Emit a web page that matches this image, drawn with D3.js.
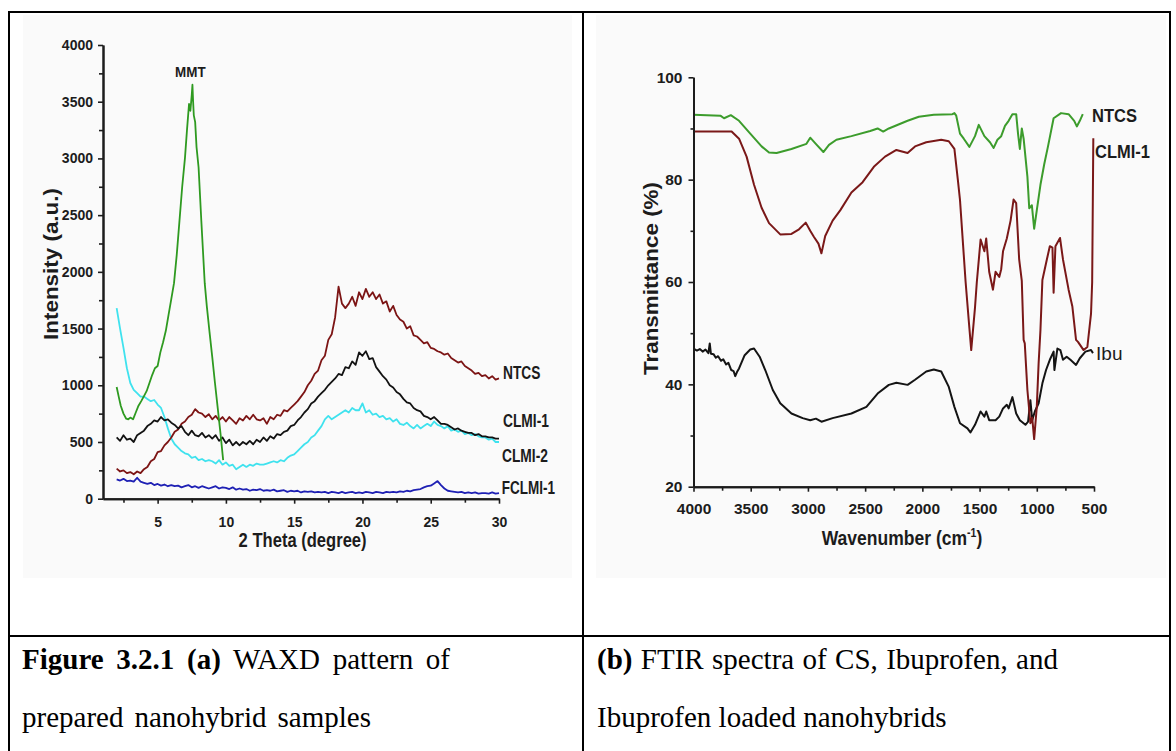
<!DOCTYPE html>
<html>
<head>
<meta charset="utf-8">
<script src="https://cdn.jsdelivr.net/npm/d3@7"></script>
<style>
  body { margin: 0; background: #fff; }
  svg { display: block; }
</style>
</head>
<body>
<svg id="fig" width="1176" height="751"></svg>
<script>
// ---------- (a) WAXD patterns: intensity (a.u.) on a 0.25 degree 2-theta grid ----------
const twoTheta = d3.range(2, 30.001, 0.25);

const waxdNTCS = [
  265,240,250,225,  235,215,240,225,  260,280,330,350,  410,420,470,500,
  540,590,610,660,  680,720,740,790,  760,750,720,745,  700,730,690,720,
  680,720,690,660,  710,690,730,700,  740,700,690,710,  660,720,700,740,
  730,780,770,800,  830,860,900,940,  1000,1040,1100,1130, 1220,1260,1400,1450,
  1600,1870,1720,1680, 1720,1780,1700,1820, 1760,1850,1780,1820, 1760,1800,1720,1740,
  1650,1700,1620,1580, 1560,1500,1520,1440, 1430,1400,1370,1380, 1330,1320,1300,1290,
  1270,1280,1240,1220, 1200,1210,1170,1150, 1130,1100,1110,1080, 1090,1060,1080,1050,
  1060
];
const waxdCLMI1 = [
  540,510,560,520,  530,500,560,580,  600,640,660,690,  680,720,690,700,
  670,650,620,640,  590,560,600,560,  550,580,540,560,  530,560,510,540,
  490,520,470,500,  470,500,480,510,  480,520,500,540,  510,550,530,570,
  560,590,600,640,  650,690,720,760,  790,840,860,900,  930,960,1000,1030,
  1060,1100,1090,1160, 1150,1210,1180,1290, 1260,1300,1230,1240, 1160,1120,1080,1050,
  1000,980,940,920,  880,850,840,800,  780,770,730,720,  700,720,690,660,
  660,650,630,610,  620,600,590,580,  580,560,570,550,  550,540,540,530,
  530
];
const waxdCLMI2 = [
  1680,1500,1330,1150, 1020,960,930,900, 900,880,860,870,  830,800,720,620,
  530,480,450,420,  400,390,360,370,  340,350,330,340,  330,310,340,300,
  320,290,300,260,  280,300,280,300,  290,310,300,300,  310,320,330,320,
  340,330,360,380,  390,420,450,480,  500,540,560,600,  640,700,730,700,
  720,740,760,780,  760,800,780,780,  840,760,780,740,  750,720,730,700,
  710,680,700,660,  650,670,640,620,  650,620,640,660,  640,680,650,640,
  620,640,600,610,  590,600,570,580,  560,570,550,540,  540,520,530,500,
  500
];
const waxdFCLMI1 = [
  170,160,175,155,  160,150,185,150,  140,130,140,120,  130,115,125,110,
  120,110,115,100,  110,120,100,110,  95,110,100,90,    100,110,90,100,
  95,85,100,80,     90,80,85,70,      80,75,85,70,      75,70,80,65,
  70,75,60,70,      65,70,55,65,      60,65,55,60,      55,60,50,60,
  55,50,60,50,      55,60,50,55,      50,60,55,50,      60,55,50,60,
  55,60,55,65,      60,70,65,75,      80,85,100,110,    115,135,155,120,
  90,70,65,60,      55,60,50,55,      50,55,45,50,      50,45,55,45,
  50
];
// pristine clay, measured only up to ~10 degrees: [2-theta, intensity]
const waxdMMT = [
  [2.0,985],[2.15,900],[2.3,820],[2.5,750],[2.7,705],[2.85,700],[3.0,715],[3.2,700],
  [3.4,760],[3.6,820],[3.8,860],[4.0,905],[4.2,950],[4.4,1020],[4.6,1090],[4.8,1150],
  [5.0,1170],[5.2,1290],[5.4,1380],[5.6,1480],[5.8,1620],[6.0,1760],[6.2,1900],[6.4,2150],
  [6.6,2450],[6.8,2750],[7.0,3000],[7.15,3250],[7.3,3480],[7.4,3420],[7.5,3560],[7.55,3650],
  [7.6,3500],[7.65,3380],[7.75,3320],[7.85,3100],[8.0,2920],[8.2,2450],[8.45,1900],[8.6,1700],
  [8.8,1470],[9.0,1250],[9.2,1020],[9.4,800],[9.6,580],[9.8,340]
];
const waxdXTicks = [5, 10, 15, 20, 25, 30];
const waxdYTicks = [0, 500, 1000, 1500, 2000, 2500, 3000, 3500, 4000];

// ---------- (b) FTIR spectra: [wavenumber cm-1, transmittance %] ----------
const ftirNTCS = [
  [4000,92.7],[3765,92.5],[3733,92.0],[3674,92.6],[3602,91.5],[3504,89],[3405,86.5],[3340,85.3],
  [3274,85.2],[3144,86],[3013,87],[2980,88.2],[2931,87],[2865,85.4],[2816,86.8],[2751,87.8],
  [2620,88.5],[2456,89.5],[2391,90],[2342,89.4],[2293,90],[2129,91.5],[2031,92.3],[1900,92.7],
  [1737,92.8],[1720,93],[1704,92.5],[1671,89],[1638,88],[1589,86.4],[1540,88.5],[1507,90.7],
  [1458,88.5],[1409,87.3],[1377,86.2],[1344,87.8],[1311,88.5],[1278,90.5],[1246,91.5],[1213,92.8],
  [1180,92.8],[1164,89],[1148,86],[1131,90],[1115,88],[1082,80.6],[1066,74.4],[1043,75],
  [1023,70.4],[1000,74],[968,79],[935,83],[902,86.5],[853,92],[788,93],[722,92.8],
  [673,91.5],[650,90.4],[624,91.5],[598,92.8]
];
const ftirCLMI1 = [
  [4000,89.4],[3667,89.4],[3602,88],[3536,84.5],[3471,79],[3405,74.5],[3340,71.5],[3242,69.3],
  [3144,69.4],[3078,70.3],[3019,71.6],[2980,70],[2947,68.8],[2908,67.5],[2882,65.6],[2849,69],
  [2784,72],[2718,74],[2620,77.5],[2522,79.5],[2424,82.5],[2326,84.5],[2227,85.8],[2129,85.2],
  [2064,86.5],[1966,87.3],[1835,87.8],[1769,87.5],[1720,86],[1690,80],[1671,76],[1622,60],
  [1589,51],[1573,46.7],[1540,55],[1524,60],[1491,68.3],[1458,66],[1442,68.5],[1416,62],
  [1383,58.5],[1360,62],[1328,61],[1311,62.5],[1295,66],[1262,68.5],[1229,72],[1203,76.1],
  [1180,75.4],[1154,64.4],[1131,60.2],[1115,48.7],[1105,48],[1082,38.9],[1056,32.4],[1040,33.5],
  [1023,29.3],[1000,35.6],[984,44.1],[968,50.6],[951,60.4],[912,64.4],[886,67],[863,66.7],
  [853,57.9],[837,67],[797,68.6],[771,64.4],[722,58.5],[689,55.2],[657,48.7],[640,48.3],
  [591,46.7],[558,47.3],[526,53.8],[516,60],[506,88.1]
];
const ftirIbu = [
  [4000,47.0],[3970,46.6],[3945,46.9],[3920,46.4],[3895,46.8],[3870,46.1],[3858,48.0],[3848,46.0],
  [3825,45.9],[3805,45.2],[3785,45.5],[3760,44.6],[3740,44.9],[3715,43.9],[3695,44.2],[3670,42.8],
  [3650,42.6],[3635,41.6],[3620,42.4],[3602,43.1],[3553,45.7],[3504,46.8],[3471,47.0],[3422,45.4],
  [3373,42.8],[3307,38.9],[3242,36.3],[3144,34.3],[3046,33.4],[2980,33.0],[2930,33.3],[2882,32.7],
  [2784,33.4],[2620,34.3],[2489,35.6],[2391,38.2],[2293,39.9],[2227,40.3],[2129,39.9],[2064,40.9],
  [1966,42.5],[1900,42.9],[1835,42.5],[1769,39.5],[1720,35.6],[1671,32.4],[1606,31.4],[1580,30.6],
  [1540,32.1],[1491,34.7],[1458,33.7],[1442,34.7],[1416,33.0],[1360,33.0],[1328,33.7],[1295,35.3],
  [1262,36.0],[1246,35.3],[1213,37.5],[1180,34.3],[1148,33.0],[1099,32.1],[1076,32.7],[1056,36.9],
  [1040,33.0],[1017,34.7],[984,36.3],[951,40.2],[919,42.8],[886,44.8],[853,46.4],[846,42.8],
  [820,47.0],[794,46.7],[771,44.8],[739,45.4],[706,44.8],[657,43.8],[624,45.1],[575,46.4],
  [526,46.7],[509,46.1]
];
const ftirXTicks = [4000, 3500, 3000, 2500, 2000, 1500, 1000, 500];
const ftirYTicks = [20, 40, 60, 80, 100];

// ---------- drawing ----------
const svg = d3.select("#fig");
const SANS = "'Liberation Sans', Arial, Helvetica, sans-serif";
const SERIF = "'Liberation Serif', 'Times New Roman', serif";
const INK = "#1c1c1c";
const plain = d3.format("d");

// text placed at (x,y) and squeezed horizontally to a given width
function label(parent, build, o) {
  const t = parent.append("text")
    .attr("font-family", o.family || SANS)
    .attr("font-size", o.size)
    .attr("font-weight", o.weight || "bold")
    .attr("text-anchor", o.anchor || "start")
    .attr("fill", o.fill || INK);
  if (typeof build === "string") t.text(build); else build(t);
  const w = t.node().getBBox().width;
  const sx = o.width ? o.width / w : 1;
  t.attr("transform", `translate(${o.x},${o.y})` + (o.rotate ? ` rotate(${o.rotate})` : "") + ` scale(${sx},1)`);
  return t;
}

// caption line; word gaps are only ever widened so the line reaches a given width
function captionLine(parent, build, x, y, width) {
  const t = parent.append("text")
    .attr("font-family", SERIF).attr("font-size", 29).attr("fill", "#000")
    .attr("x", x).attr("y", y);
  build(t);
  const natural = t.node().getComputedTextLength();
  const gaps = (t.text().match(/ /g) || []).length;
  if (gaps && width > natural) t.attr("word-spacing", (width - natural) / gaps);
  return t;
}

function styleAxis(g, fontSize) {
  g.select(".domain").attr("stroke", INK).attr("stroke-width", 2);
  g.selectAll(".tick line").attr("stroke", INK).attr("stroke-width", 1.6);
  g.selectAll(".tick text").attr("fill", INK).attr("font-family", SANS)
    .attr("font-weight", "bold").attr("font-size", fontSize);
}

// table frame
const frame = svg.append("g").attr("stroke", "#000").attr("stroke-width", 2).attr("fill", "none");
frame.append("rect").attr("x", 9).attr("y", 12).attr("width", 1161).attr("height", 760);
frame.append("line").attr("x1", 583).attr("x2", 583).attr("y1", 12).attr("y2", 751);
frame.append("line").attr("x1", 9).attr("x2", 1170).attr("y1", 636).attr("y2", 636);

// faint plot-image backgrounds
svg.append("rect").attr("x", 23).attr("y", 15).attr("width", 549).attr("height", 563).attr("fill", "#fafafa");
svg.append("rect").attr("x", 596).attr("y", 15).attr("width", 570).attr("height", 563).attr("fill", "#fafafa");

// ===== panel (a) =====
const pa = svg.append("g");
const xA = d3.scaleLinear().domain([1, 30]).range([103, 499]);
const yA = d3.scaleLinear().domain([0, 4000]).range([498.7, 45]);

const lineA = d3.line().x(d => xA(d[0])).y(d => yA(d[1]));
const onGrid = arr => arr.map((v, i) => [twoTheta[i], v]);

[
  [onGrid(waxdFCLMI1), "#1e20b4"],
  [onGrid(waxdCLMI2), "#3fe2ee"],
  [onGrid(waxdNTCS), "#7c1414"],
  [onGrid(waxdCLMI1), "#121212"],
  [waxdMMT, "#2e9a20"]
].forEach(([pts, col]) => {
  pa.append("path").datum(pts).attr("d", lineA)
    .attr("fill", "none").attr("stroke", col).attr("stroke-width", 1.8)
    .attr("stroke-linejoin", "round");
});

const axA_minorX = pa.append("g").attr("transform", "translate(0,498.7)")
  .call(d3.axisBottom(xA).tickValues([2.5, 7.5, 12.5, 17.5, 22.5, 27.5]).tickSize(4).tickSizeOuter(0).tickFormat(""));
styleAxis(axA_minorX, 14);
const axA_x = pa.append("g").attr("transform", "translate(0,498.7)")
  .call(d3.axisBottom(xA).tickValues(waxdXTicks).tickFormat(plain).tickSize(5).tickSizeOuter(0).tickPadding(13));
styleAxis(axA_x, 14);
const axA_minorY = pa.append("g").attr("transform", "translate(103,0)")
  .call(d3.axisLeft(yA).tickValues(d3.range(250, 4000, 500)).tickSize(4).tickSizeOuter(0).tickFormat(""));
styleAxis(axA_minorY, 14);
const axA_y = pa.append("g").attr("transform", "translate(103,0)")
  .call(d3.axisLeft(yA).tickValues(waxdYTicks).tickFormat(plain).tickSize(5).tickSizeOuter(0).tickPadding(5));
styleAxis(axA_y, 14);

label(pa, "2 Theta (degree)", { x: 302.6, y: 546.5, size: 20, anchor: "middle", width: 128 });
label(pa, "Intensity (a.u.)", { x: 57.5, y: 264, size: 20, anchor: "middle", width: 152, rotate: -90 });
label(pa, "MMT", { x: 190.3, y: 76.7, size: 14, anchor: "middle", width: 31 });
label(pa, "NTCS", { x: 503, y: 379.3, size: 18.5, width: 37.5 });
label(pa, "CLMI-1", { x: 503, y: 426.7, size: 18.5, width: 46 });
label(pa, "CLMI-2", { x: 502, y: 461.7, size: 18.5, width: 46 });
label(pa, "FCLMI-1", { x: 501.7, y: 494, size: 18.5, width: 53.3 });

// ===== panel (b) =====
const pb = svg.append("g");
const xB = d3.scaleLinear().domain([4000, 500]).range([693.5, 1094]);
const yB = d3.scaleLinear().domain([20, 100]).range([486.7, 77.3]);
const lineB = d3.line().x(d => xB(d[0])).y(d => yB(d[1]));

[
  [ftirIbu, "#141414"],
  [ftirCLMI1, "#7a1818"],
  [ftirNTCS, "#3c9c2c"]
].forEach(([pts, col]) => {
  pb.append("path").datum(pts).attr("d", lineB)
    .attr("fill", "none").attr("stroke", col).attr("stroke-width", 2)
    .attr("stroke-linejoin", "round");
});

const axB_minorX = pb.append("g").attr("transform", "translate(0,486.7)")
  .call(d3.axisBottom(xB).tickValues(d3.range(3750, 500, -500)).tickSize(4).tickSizeOuter(0).tickFormat(""));
styleAxis(axB_minorX, 15.5);
const axB_x = pb.append("g").attr("transform", "translate(0,486.7)")
  .call(d3.axisBottom(xB).tickValues(ftirXTicks).tickFormat(plain).tickSize(5).tickSizeOuter(0).tickPadding(11.6));
styleAxis(axB_x, 15.5);
const axB_minorY = pb.append("g").attr("transform", "translate(693.5,0)")
  .call(d3.axisLeft(yB).tickValues([30, 50, 70, 90]).tickSize(3).tickSizeOuter(0).tickFormat(""));
styleAxis(axB_minorY, 15.5);
const axB_y = pb.append("g").attr("transform", "translate(693.5,0)")
  .call(d3.axisLeft(yB).tickValues(ftirYTicks).tickFormat(plain).tickSize(5).tickSizeOuter(0).tickPadding(6));
styleAxis(axB_y, 15.5);

label(pb, t => {
  t.append("tspan").text("Wavenumber (cm");
  t.append("tspan").attr("font-size", 12).attr("dy", -8).text("-1");
  t.append("tspan").attr("dy", 8).text(")");
}, { x: 902, y: 545, size: 20, anchor: "middle", width: 160.7 });
label(pb, "Transmittance (%)", { x: 657.5, y: 278.5, size: 20.5, anchor: "middle", width: 193, rotate: -90 });
label(pb, "NTCS", { x: 1092, y: 121.7, size: 18.5, width: 45 });
label(pb, "CLMI-1", { x: 1095, y: 158.3, size: 18.5, width: 55 });
label(pb, "Ibu", { x: 1096, y: 360, size: 19, weight: "normal", width: 26.5 });

// ===== captions =====
const cap = svg.append("g");
captionLine(cap, t => {
  t.append("tspan").attr("font-weight", "bold").text("Figure 3.2.1 (a)");
  t.append("tspan").text(" WAXD pattern of");
}, 22, 669, 428);
captionLine(cap, t => t.text("prepared nanohybrid samples"), 22, 727, 349);
captionLine(cap, t => {
  t.append("tspan").attr("font-weight", "bold").text("(b)");
  t.append("tspan").text(" FTIR spectra of CS, Ibuprofen, and");
}, 597, 669, 461);
captionLine(cap, t => t.text("Ibuprofen loaded nanohybrids"), 597, 727, 345);
</script>
</body>
</html>
